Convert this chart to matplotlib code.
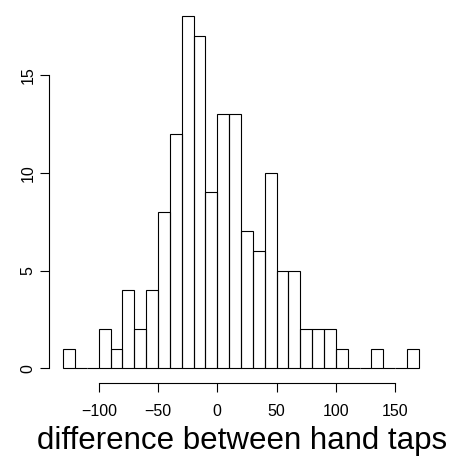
import numpy as np
import matplotlib
matplotlib.use("Agg")
from matplotlib import pyplot as plt

# histogram of the differences, 10-wide bins from -130 to 170
bin_left = np.arange(-130, 170, 10)
counts = [1, 0, 0, 2, 1, 4, 2, 4, 8, 12, 18, 17, 9, 13, 13,
          7, 6, 10, 5, 5, 2, 2, 2, 1, 0, 0, 1, 0, 0, 1]
x_ticks = [-100, -50, 0, 50, 100, 150]
y_ticks = [0, 5, 10, 15]
x_label = "difference between hand taps"

plt.rcParams['font.family'] = ['Liberation Sans', 'DejaVu Sans']

fig = plt.figure(figsize=(4.52, 4.59), dpi=100)
ax = fig.add_axes([49 / 452, 1 - 382.5 / 459, 384 / 452, 380.5 / 459])

ax.bar(bin_left, counts, width=10, align='edge', fill=False,
       edgecolor='black', linewidth=0.8)

# R style 4% padding around the data range
xr = 300
ax.set_xlim(-130 - 0.04 * xr, 170 + 0.04 * xr)
ax.set_ylim(-0.04 * 18, 18 * 1.04)

for s in ['top', 'right']:
    ax.spines[s].set_visible(False)
ax.spines['left'].set_bounds(0, 15)
ax.spines['bottom'].set_bounds(-100, 150)
ax.spines['left'].set_linewidth(0.8)
ax.spines['bottom'].set_linewidth(0.8)

ax.set_xticks(x_ticks)
ax.set_xticklabels([str(t).replace('-', '\u2212') for t in x_ticks])
ax.set_yticks(y_ticks)
ax.set_yticklabels([str(t) for t in y_ticks], rotation=90, va='center')
ax.tick_params(axis='x', length=6.5, width=0.8, pad=9, labelsize=11.5)
ax.tick_params(axis='y', length=6.5, width=0.8, pad=3, labelsize=11.5)

fig.text(242 / 452, 1 - 441 / 459, x_label, ha='center', va='center', fontsize=22.5)

fig.savefig("out.png", dpi=100)
